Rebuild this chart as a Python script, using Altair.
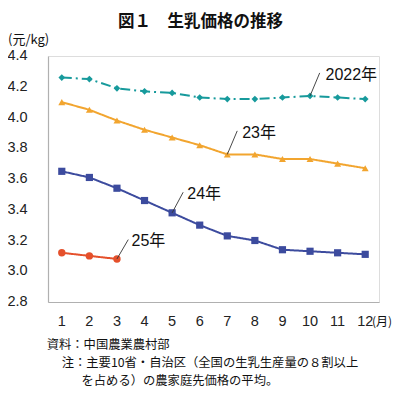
import altair as alt
import pandas as pd

months = list(range(1, 13))
v2022 = [4.26, 4.25, 4.19, 4.17, 4.16, 4.13, 4.12, 4.12, 4.13, 4.14, 4.13, 4.12]
v2023 = [4.10, 4.05, 3.98, 3.92, 3.87, 3.82, 3.76, 3.76, 3.73, 3.73, 3.70, 3.67]
v2024 = [3.65, 3.61, 3.54, 3.46, 3.38, 3.30, 3.23, 3.20, 3.14, 3.13, 3.12, 3.11]
v2025 = [3.12, 3.10, 3.08]

series_names = ["2022", "2023", "2024", "2025"]
series_colors = ["#179a9c", "#f2a52f", "#3c4b9e", "#e5502b"]
series_shapes = ["diamond", "triangle-up", "square", "circle"]
series_dash = [[10, 4, 2, 4], [1, 0], [1, 0], [1, 0]]

y_ticks = [2.8, 3.0, 3.2, 3.4, 3.6, 3.8, 4.0, 4.2, 4.4]
y_tick_labels = ["2.8", "3.0", "3.2", "3.4", "3.6", "3.8", "4.0", "4.2", "4.4"]
x_tick_labels = [str(m) for m in months]

# annotation labels (data coords)
lab_text = ["2022年", "23年", "24年", "25年"]
lab_x = [10.56, 7.54, 5.55, 3.53]
lab_y = [4.279, 3.902, 3.503, 3.194]
# leader lines: from data point to label
lead_x0 = [10, 7, 5, 3]
lead_y0 = [4.14, 3.76, 3.38, 3.08]
lead_x1 = [10.35, 7.36, 5.40, 3.41]
lead_y1 = [4.29, 3.913, 3.514, 3.206]

rows = []
for name, vals in zip(series_names, [v2022, v2023, v2024, v2025]):
    for m, v in zip(months, vals):
        rows.append({"series": name, "month": m, "value": v})
df = pd.DataFrame(rows)

labels_df = pd.DataFrame({"text": lab_text, "x": lab_x, "y": lab_y})
leads_df = pd.DataFrame({"x0": lead_x0, "y0": lead_y0, "x1": lead_x1, "y1": lead_y1})
yt_df = pd.DataFrame({"v": y_ticks, "t": y_tick_labels})
xt_df = pd.DataFrame({"m": months, "t": x_tick_labels})

FONT = "Liberation Sans, Noto Sans CJK JP"
CJK = "Noto Sans CJK JP"

xscale = alt.Scale(domain=[0.5, 12.5], nice=False, zero=False)
yscale = alt.Scale(domain=[2.8, 4.4], nice=False, zero=False)

color = alt.Color("series:N", scale=alt.Scale(domain=series_names, range=series_colors), legend=None)

x_enc = alt.X("month:Q", scale=xscale, axis=alt.Axis(
    values=months, labels=False, title=None, grid=False, ticks=False,
    domainColor="#b0b0b0", domainWidth=1.2))
y_enc = alt.Y("value:Q", scale=yscale, axis=alt.Axis(
    values=y_ticks, labels=False, title=None, grid=False, ticks=False,
    domainColor="#b0b0b0", domainWidth=1.2))

base = alt.Chart(df)

lines = base.mark_line(strokeWidth=2).encode(
    x=x_enc, y=y_enc, color=color,
    strokeDash=alt.StrokeDash("series:N", scale=alt.Scale(domain=series_names, range=series_dash), legend=None),
    detail="series:N",
)

points = base.mark_point(filled=True, opacity=1).encode(
    x="month:Q", y="value:Q", color=color,
    shape=alt.Shape("series:N", scale=alt.Scale(domain=series_names, range=series_shapes), legend=None),
    size=alt.Size("series:N", scale=alt.Scale(domain=series_names, range=[45, 55, 60, 55]), legend=None),
)

leaders = alt.Chart(leads_df).mark_rule(color="#333", strokeWidth=0.9).encode(
    x="x0:Q", y="y0:Q", x2="x1:Q", y2="y1:Q")

labels = alt.Chart(labels_df).mark_text(
    align="left", baseline="middle", font=FONT, fontSize=16, color="#111").encode(
    x="x:Q", y="y:Q", text="text:N")

ylabels = alt.Chart(yt_df).mark_text(
    align="right", baseline="middle", font=FONT, fontSize=14.5, color="#222").encode(
    x=alt.value(-20.3), y="v:Q", text="t:N")

xlabels = alt.Chart(xt_df).mark_text(
    align="center", baseline="middle", font=FONT, fontSize=14.5, color="#222").encode(
    x="m:Q", y=alt.value(265.5), text="t:N")

def txt(s, x, y, size, align="left", weight="normal", font=CJK):
    return alt.Chart(pd.DataFrame({"t": [s]})).mark_text(
        align=align, baseline="middle", fontSize=size, fontWeight=weight,
        font=font, color="#111").encode(x=alt.value(x), y=alt.value(y), text="t:N")

title = txt("図１　生乳価格の推移", 152.5, -34.5, 16.5, align="center", weight="bold")
unit = txt("(元/kg)", -40, -16, 13)
month_unit = txt("(月)", 324, 265.5, 12)
f1 = txt("資料：中国農業農村部", -1.3, 289, 12.3)
f2 = txt("注：主要10省・自治区（全国の生乳生産量の８割以上", 13.7, 306.5, 12.3)
f3 = txt("を占める）の農家庭先価格の平均。", 33.5, 324.5, 12.3)

chart = alt.layer(lines, points, leaders, labels, ylabels, xlabels,
                  title, unit, month_unit, f1, f2, f3).properties(
    width=331, height=246,
    padding={"left": 40, "top": 48, "right": 13, "bottom": 86},
    autosize=alt.AutoSizeParams(type="none"),
).configure_view(stroke=None).configure(background="white")

chart.save("out.html", embed_options={"renderer": "svg", "actions": False})
